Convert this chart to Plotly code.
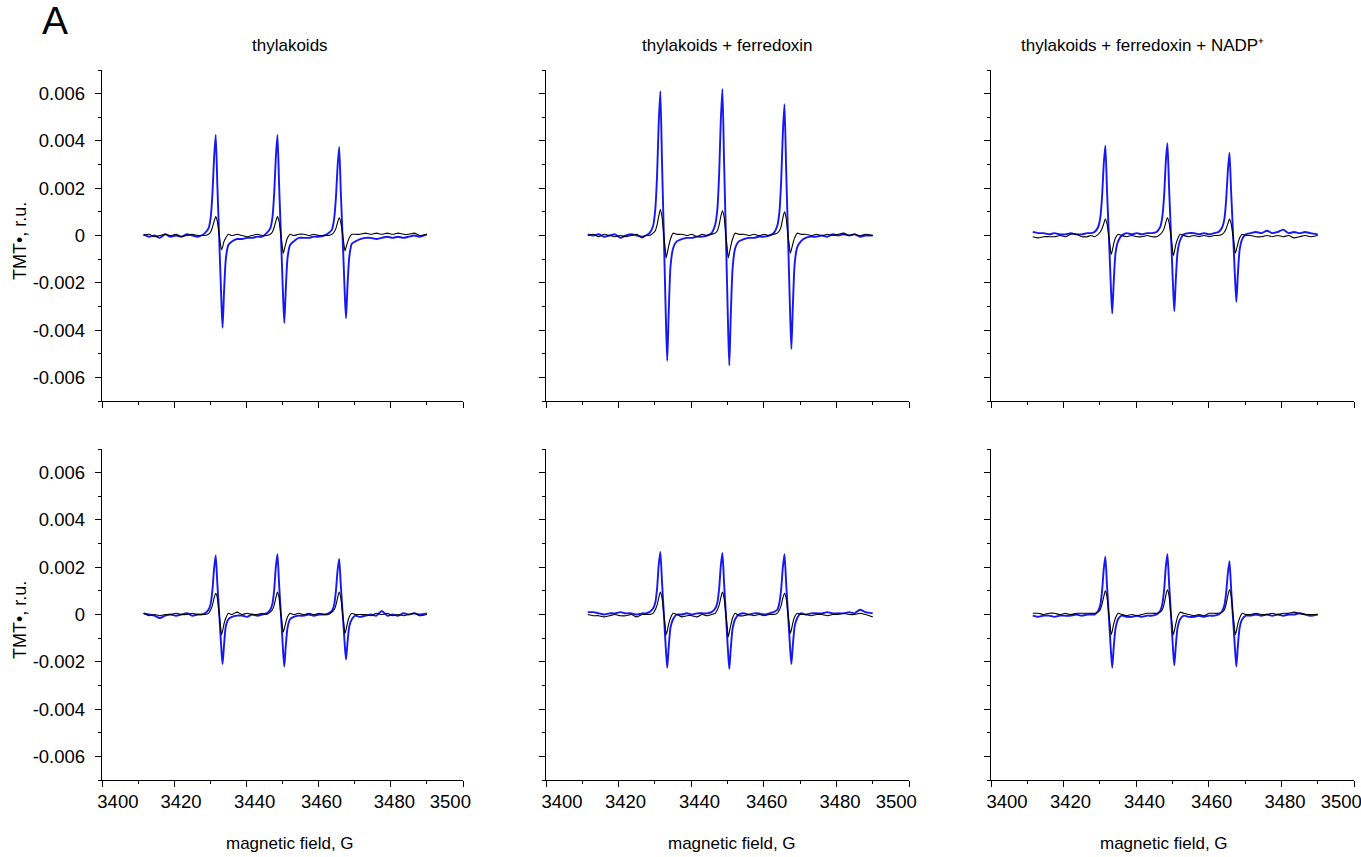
import plotly.graph_objects as go

# EPR spectra of the TMT radical; signal arrays are in units of 1e-4 r.u.
SCALE = 1e-4

FIELD_G = [
    3411.5, 3413.0, 3414.5, 3416.0, 3417.5, 3419.0, 3420.5, 3422.0, 3423.5, 3425.0, 3426.5, 3427.5,
    3428.5, 3429.5, 3430.1, 3430.6, 3431.05, 3431.5, 3431.95, 3432.4, 3432.8, 3433.1, 3433.4, 3433.8, 3434.3, 3435.0, 3436.0,
    3437.4, 3438.8, 3440.2, 3441.6, 3443.0, 3444.4,
    3445.6, 3446.6, 3447.2, 3447.7, 3448.15, 3448.6, 3449.05, 3449.5, 3449.9, 3450.2, 3450.5, 3450.9, 3451.4, 3452.1, 3453.1,
    3454.5, 3455.9, 3457.3, 3458.7, 3460.1, 3461.5,
    3462.7, 3463.7, 3464.3, 3464.8, 3465.25, 3465.7, 3466.15, 3466.6, 3467.0, 3467.3, 3467.6, 3468.0, 3468.5, 3469.2, 3470.2,
    3471.5, 3473.0, 3474.5, 3476.0, 3477.5, 3479.0, 3480.5, 3482.0, 3483.5, 3485.0, 3486.5, 3488.0, 3490.0,
]

# --- top row ---------------------------------------------------------------
top_thyl_blue = [
    0.5, -0.5, 0, -1, 0.5, -0.5, 0, -0.5, 0.5, 0, -0.5, 0,
    1, 3, 7.5, 18, 33, 42.5, 21.5, 1.5, -16, -29, -39, -24, -10, -4, -2.5,
    -1.5, -1.5, -1, -1, -0.5, -0.5,
    1, 3, 7.5, 18, 33, 42.5, 22, 2.5, -14.5, -27.5, -37, -23, -9.5, -4, -2.5,
    -1, -1, -1, -0.5, -0.5, 0,
    1, 2.5, 7, 16, 29, 37.5, 18.5, 1, -14.5, -26.5, -35, -21.5, -9, -3.5, -2.5,
    -1.5, -1, -1, -1.5, -1, -0.5, -1, -0.5, -1, -0.5, 0, -0.5, 0.5,
]
top_thyl_black = [
    0, 0.5, -0.5, 0, 0.5, 0, 0.5, -0.5, 0, 0.5, 0, 0,
    0, 0.5, 1.5, 3.5, 6, 8, 6, 1, -3.5, -6, -5, -2.5, -1, 0.5, 0,
    0.5, 0, -0.5, 0, 0.5, 0,
    0, 0.5, 1.5, 3.5, 6, 8, 6, 1, -4, -7.5, -6, -3.5, -1, 0.5, 0,
    0.5, 0.5, 0, 0.5, 0, 0,
    0, 0.5, 1.5, 3, 5.5, 7.5, 5.5, 1, -3.5, -6.5, -5, -3, -1, 0.5, 0.5,
    0.5, 1, 0.5, 1, 0.5, 1, 0.5, 1, 0.5, 0.5, 1, 0, 0.5,
]
top_fd_blue = [
    0.5, 0, 0.5, -0.5, 0, 0.5, -1, 0, 0.5, 0, -0.5, 0,
    1, 4, 11, 25.5, 47.5, 61, 31.5, 4, -21, -39.5, -53, -33, -13, -5.5, -2.5,
    -1.5, -1, -1, -0.5, -0.5, 0,
    1, 4.5, 11, 26, 48.5, 62, 31.5, 3.5, -22, -41, -55, -34, -14, -5.5, -2.5,
    -1.5, -1, -1, -0.5, -0.5, 0,
    1, 4, 10, 23.5, 43.5, 55.5, 28.5, 3.5, -19, -35.5, -48, -30, -12, -5, -2.5,
    -1, -0.5, -0.5, 0, -0.5, 0.5, 0, 0.5, 0, 0.5, -0.5, 0, 0,
]
top_fd_black = [
    0, 0.5, -0.5, 0.5, 0, -0.5, 0, -0.5, 0, 0.5, -1, 0,
    0, 1, 2, 4.5, 8, 11, 8, 1, -5, -9.5, -7.5, -4.5, -1.5, 1, 0.5,
    0.5, 0, 0.5, -0.5, 0.5, 0,
    0.5, 1, 2, 4.5, 8, 10.5, 8, 1, -5, -9.5, -7.5, -4.5, -1.5, 1, 0.5,
    0.5, 0, 0.5, 0, 0.5, 0,
    0.5, 1, 2, 4, 7.5, 10, 7.5, 1, -4, -7.5, -6, -3.5, -1, 1, 0.5,
    0.5, 0, 0.5, 0, 0.5, 0, 0.5, 1, 0, 0.5, 0, 0.5, 0,
]
top_nadp_blue = [
    1.5, 1, 1, 0.5, 1, 0.5, 0.5, 1, 0.5, 0.5, 1, 1,
    1.5, 3.5, 7.5, 16.5, 30, 38, 19.5, 2.5, -13, -24.5, -33, -20, -7.5, -2.5, 0,
    1, 0.5, 1, 0.5, 1, 1,
    1.5, 3.5, 8, 17, 31, 39, 20.5, 3.5, -12, -23.5, -32, -19, -7, -2, 0.5,
    1, 1, 0.5, 1, 0.5, 1,
    1.5, 3.5, 7, 15.5, 27.5, 35, 18.5, 3.5, -10.5, -20.5, -28, -16.5, -6, -1.5, 0.5,
    1, 1.5, 1, 2, 1, 1.5, 2.5, 1, 1.5, 1, 1.5, 1, 0.5,
]
top_nadp_black = [
    -0.5, -1, -0.5, -0.5, -0.5, 0, -0.5, 0.5, 0.5, -0.5, -0.5, 0,
    -0.5, 0.5, 1.5, 3, 5, 7, 5, 0.5, -4.5, -8, -6.5, -3.5, -1, 0.5, 0,
    -0.5, 0, -0.5, -0.5, 0, -0.5,
    -0.5, 0.5, 1.5, 3, 5.5, 7.5, 5.5, 0.5, -4.5, -8.5, -7, -4, -1.5, 0.5, 0,
    -0.5, 0, -0.5, 0, -0.5, 0,
    0, 0.5, 1.5, 3, 5, 7, 5, 0.5, -4, -7.5, -6, -3.5, -1, 0.5, 0,
    0, -0.5, -0.5, 0, -0.5, 0, -0.5, 0, -1, -0.5, 0, -0.5, 0,
]

# --- bottom row ------------------------------------------------------------
bot_thyl_blue = [
    0.5, 0, -0.5, -1.5, -0.5, 0, -0.5, 0, 0.5, -0.5, 0, 0,
    0.5, 2, 4.5, 10.5, 19.5, 25, 13, 2, -8, -15.5, -21, -13, -5, -2, -1,
    -0.5, -0.5, -1, 0, -0.5, 0,
    0.5, 2, 4.5, 10.5, 20, 25.5, 13, 1.5, -8.5, -16.5, -22, -13.5, -5.5, -2, -1,
    -0.5, -0.5, 0, -0.5, 0, 0,
    0.5, 1.5, 4, 10, 18.5, 23.5, 12.5, 2, -7, -14, -19, -12, -5, -2, -0.5,
    -1, -0.5, 0, -0.5, 1.5, -0.5, 0, -0.5, 0.5, 0, 0.5, 0, 0.5,
]
bot_thyl_black = [
    0.5, -0.5, 0, -0.5, 0, 0, 0.5, 0, 0, 0.5, 0, 0,
    0, 0.5, 2, 4, 7, 9, 7, 1, -4.5, -8.5, -7, -4, -1.5, 0.5, 0,
    1, 0, 0.5, 0, 0, 0.5,
    0, 1, 2, 4, 7, 9.5, 7, 1, -4, -7.5, -6, -3.5, -1, 0.5, 0,
    0.5, 0, 0.5, 0, 0.5, 0,
    0, 1, 2, 4, 7, 9.5, 7, 1, -4.5, -8, -6.5, -3.5, -1, 0.5, 0,
    0, 0, -0.5, 0.5, 0, 0.5, -0.5, 0, -0.5, 0, 0.5, -0.5, 0,
]
bot_fd_blue = [
    1, 1, 0.5, 0, 0.5, 0.5, 1, 0.5, 0.5, 0, 0.5, 0.5,
    1, 2.5, 5, 11, 21, 26.5, 14, 2, -9, -16.5, -22.5, -14, -5.5, -2, 0,
    0, 0.5, 0, 0.5, 0.5, 0.5,
    1, 2.5, 5, 11, 20.5, 26, 13.5, 1.5, -9.5, -17, -23, -14.5, -6, -2, 0,
    0.5, 0, 0.5, 0.5, 0, 0.5,
    1, 2, 5, 11, 20, 25.5, 13.5, 2, -8, -15.5, -21, -13, -5, -1.5, 0.5,
    0, 0.5, 0.5, 0.5, 1, 0.5, 0.5, 0.5, 1, 0.5, 2, 1, 0.5,
]
bot_fd_black = [
    0, -0.5, -0.5, -1, -0.5, 0, -0.5, -0.5, 0, -1, 0, 0,
    0, 0.5, 2, 4, 7, 9.5, 7, 1, -4.5, -8.5, -7, -4, -1.5, 0.5, 0,
    -1, -0.5, -0.5, -1, 0, -0.5,
    0, 0.5, 2, 4, 7, 9.5, 7, 1, -5, -9.5, -7.5, -4.5, -1.5, 0.5, -0.5,
    -0.5, 0, -0.5, 0, -0.5, 0,
    0, 0.5, 2, 4, 7, 9, 7, 1, -4.5, -8, -6.5, -3.5, -1, 0.5, 0,
    0, -0.5, 0, 0, -0.5, 0, 0, 0.5, 0, 0, 0.5, 0, -1,
]
bot_nadp_blue = [
    -0.5, -1, -0.5, -0.5, -1, -0.5, -0.5, -0.5, 0, -0.5, 0, 0,
    0, 1.5, 4, 10, 19, 24.5, 12.5, 1, -9.5, -17, -22.5, -14, -6, -2, -0.5,
    -1, -1, -0.5, -1, -0.5, -0.5,
    0, 1.5, 4.5, 10.5, 20, 25.5, 13.5, 2, -8.5, -16, -21.5, -13.5, -5.5, -2, -0.5,
    -1, -1, -0.5, -1, -0.5, -0.5,
    0, 1.5, 4, 9.5, 17.5, 22.5, 11, 0, -9.5, -16.5, -22, -13.5, -5.5, -2, -0.5,
    -0.5, 0, -0.5, 0, -0.5, 0, -0.5, 0, 0, 0.5, 0, -0.5, 0,
]
bot_nadp_black = [
    0.5, 0.5, 0, 0.5, 0.5, 0, 0.5, 0, 0.5, 0.5, 0.5, 0.5,
    0.5, 1, 2, 4.5, 7.5, 10, 7.5, 1, -4.5, -8.5, -7, -4, -1.5, 0.5, 0,
    -0.5, 0, -0.5, 0, 0.5, 0.5,
    0.5, 1, 2, 4.5, 8, 10.5, 8, 1, -4.5, -8.5, -7, -4, -1, 1, 0.5,
    0, -0.5, 0, -0.5, 0.5, 0.5,
    0.5, 1, 2, 4.5, 8, 10.5, 8, 1, -4.5, -8.5, -7, -4, -1.5, 0.5, 0,
    0, 0.5, 0, 0, 0.5, 0, 0.5, 0.5, 1, 0.5, 0, 0, 0,
]

PANEL_TITLES = ["thylakoids", "thylakoids + ferredoxin",
                "thylakoids + ferredoxin + NADP\u207a"]
X_TITLE = "magnetic field, G"
Y_TITLE = "TMT\u2022, r.u."
PANEL_LETTER = "A"

X_RANGE = [3400, 3500]
X_TICKS = [3400, 3420, 3440, 3460, 3480, 3500]
X_TICK_TEXT = ["3400", "3420", "3440", "3460", "3480", "3500"]
# field values under which each x tick label is centred (end labels pulled inside the axis)
X_TICK_LABEL_AT = [3404.4, 3421.9, 3442.3, 3460.8, 3481.0, 3496.5]
X_MINOR = [3410, 3430, 3450, 3470, 3490]
Y_RANGE = [-0.007, 0.007]
Y_TICKS = [-0.006, -0.004, -0.002, 0, 0.002, 0.004, 0.006]
Y_TICK_TEXT = ["-0.006", "-0.004", "-0.002", "0", "0.002", "0.004", "0.006"]
Y_MINOR = [-0.007, -0.005, -0.003, -0.001, 0.001, 0.003, 0.005, 0.007]

PANELS = [
    [(top_thyl_blue, top_thyl_black), (top_fd_blue, top_fd_black), (top_nadp_blue, top_nadp_black)],
    [(bot_thyl_blue, bot_thyl_black), (bot_fd_blue, bot_fd_black), (bot_nadp_blue, bot_nadp_black)],
]

W, H = 1361, 857
COL_PX = [(102, 463), (546, 909), (991, 1354)]
ROW_PX = [(70, 401), (449, 780)]
BLUE = "#1717f2"

TICK_FONT = dict(family="Liberation Sans, Arial, sans-serif", size=18.5, color="black")
TEXT_FONT = dict(family="Liberation Sans, Arial, sans-serif", size=17, color="black")

fig = go.Figure()
layout = dict(
    width=W, height=H, autosize=False, margin=dict(l=0, r=0, t=0, b=0, autoexpand=False),
    paper_bgcolor="white", plot_bgcolor="white", showlegend=False,
)

for r, row in enumerate(PANELS):
    for c, (blue, black) in enumerate(row):
        k = r * 3 + c + 1
        xa = "x" if k == 1 else f"x{k}"
        ya = "y" if k == 1 else f"y{k}"
        fig.add_trace(go.Scatter(
            x=FIELD_G, y=[v * SCALE for v in blue], mode="lines",
            line=dict(color=BLUE, width=1.9, shape="spline", smoothing=0.6),
            xaxis=xa, yaxis=ya, hoverinfo="skip"))
        fig.add_trace(go.Scatter(
            x=FIELD_G, y=[v * SCALE for v in black], mode="lines",
            line=dict(color="black", width=1.1, shape="spline", smoothing=0.6),
            xaxis=xa, yaxis=ya, hoverinfo="skip"))

        x0, x1 = COL_PX[c]
        y0, y1 = ROW_PX[r]
        common = dict(
            showline=True, linecolor="black", linewidth=1.4, mirror=False,
            showgrid=False, zeroline=False, ticks="outside", ticklen=6,
            tickwidth=1.3, tickcolor="black", tickfont=TICK_FONT, fixedrange=True,
            automargin=False,
        )
        layout["xaxis" if k == 1 else f"xaxis{k}"] = dict(
            common, domain=[x0 / W, x1 / W], range=X_RANGE,
            tickvals=X_TICKS, showticklabels=False, anchor=ya,
            minor=dict(ticks="outside", ticklen=3, tickwidth=1.2, tickcolor="black",
                       tickvals=X_MINOR),
        )
        layout["yaxis" if k == 1 else f"yaxis{k}"] = dict(
            common, domain=[1 - y1 / H, 1 - y0 / H], range=Y_RANGE,
            tickvals=Y_TICKS, ticktext=Y_TICK_TEXT,
            showticklabels=(c == 0), anchor=xa, ticklabelstandoff=6,
            minor=dict(ticks="outside", ticklen=3, tickwidth=1.2, tickcolor="black",
                       tickvals=Y_MINOR),
        )

        if r == 1:
            # label-only axis carrying the field values under the bottom panels
            kl = k + 6
            layout[f"xaxis{kl}"] = dict(
                domain=[x0 / W, x1 / W], range=X_RANGE, overlaying=xa, anchor=ya,
                side="bottom", showline=False, showgrid=False, zeroline=False,
                ticks="", tickvals=X_TICK_LABEL_AT, ticktext=X_TICK_TEXT,
                tickfont=TICK_FONT, ticklabelstandoff=8, automargin=False,
                ticklabeloverflow="allow", fixedrange=True,
            )
            fig.add_trace(go.Scatter(x=[], y=[], mode="lines", xaxis=f"x{kl}", yaxis=ya,
                                     hoverinfo="skip", showlegend=False))

annotations = []


def note(text, px, py, font, **kw):
    annotations.append(dict(text=text, x=px / W, y=1 - py / H, xref="paper", yref="paper",
                            showarrow=False, font=font, **kw))


note(PANEL_LETTER, 40, 21, dict(family="Liberation Sans, Arial", size=39, color="black"),
     xanchor="left", yanchor="middle")
for title, cx in zip(PANEL_TITLES, [290, 727, 1142]):
    note(title, cx, 45, TEXT_FONT, xanchor="center", yanchor="middle")
for cx in [290, 732, 1164]:
    note(X_TITLE, cx, 843, TEXT_FONT, xanchor="center", yanchor="middle")
for cy in [241, 620]:
    note(Y_TITLE, 20, cy, dict(TEXT_FONT, size=18), xanchor="center", yanchor="middle",
         textangle=-90)

layout["annotations"] = annotations
fig.update_layout(**layout)
fig.write_html("out.html")
